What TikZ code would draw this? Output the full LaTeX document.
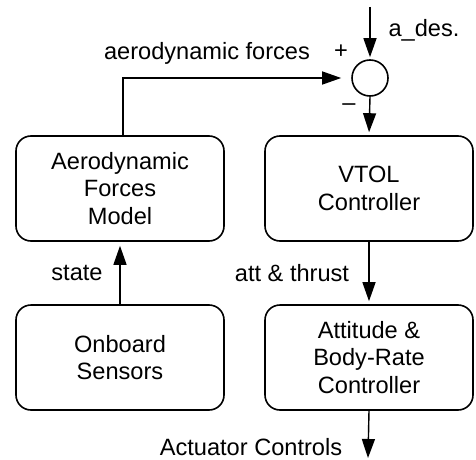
\documentclass[tikz,border=0pt]{standalone}
\usepackage{fontspec}
\setmainfont{Liberation Sans}
\usetikzlibrary{arrows.meta}
\begin{document}
\begin{tikzpicture}[x=1pt,y=1pt,
  every node/.style={font=\fontsize{23.6}{27.5}\selectfont},
  blk/.style={draw, line width=1.6pt, rounded corners=15pt, minimum width=208pt, minimum height=105pt, align=center, inner sep=0pt},
  sumnode/.style={draw, circle, line width=1.6pt, minimum size=36pt, inner sep=0pt},
  lbl/.style={inner sep=0pt},
  conn/.style={line width=1.4pt, -{Triangle[length=19pt,width=13pt]}}]
\useasboundingbox (0,0) rectangle (476,459);
\node[blk] (aero) at (120,270.5) {Aerodynamic\\Forces\\Model};
\node[blk] (sensors) at (120,101.5) {Onboard\\Sensors};
\node[blk] (vtol) at (369,270.5) {VTOL\\Controller};
\node[blk] (att) at (369,101.5) {Attitude \&\\Body-Rate\\Controller};
\node[sumnode] (sum) at (370,381) {};
\coordinate (in) at (370,452);
\coordinate (out) at (368,1);
\draw[conn, shorten >=2pt] (in) -- (sum.north);
\draw[conn, shorten >=3pt] (sum.south) -- (vtol.north);
\draw[conn, shorten >=10pt] ([xshift=3pt]aero.north) |- (sum.west);
\draw[conn, shorten >=4pt] (sensors.north) -- (aero.south);
\draw[conn, shorten >=3pt] (vtol.south) -- (att.north);
\draw[conn] (att.south) -- (out);
\node[lbl] (ades) at (424,429) {a\_des.};
\node[lbl] (plus) at (341,407) {+};
\node[lbl] (minus) at (349,352) {\textendash};
\node[lbl] (aerolbl) at (207,406) {aerodynamic forces};
\node[lbl] (statelbl) at (77,186) {state};
\node[lbl] (attlbl) at (292,186) {att \& thrust};
\node[lbl] (actlbl) at (251,12) {Actuator Controls};
\end{tikzpicture}
\end{document}
